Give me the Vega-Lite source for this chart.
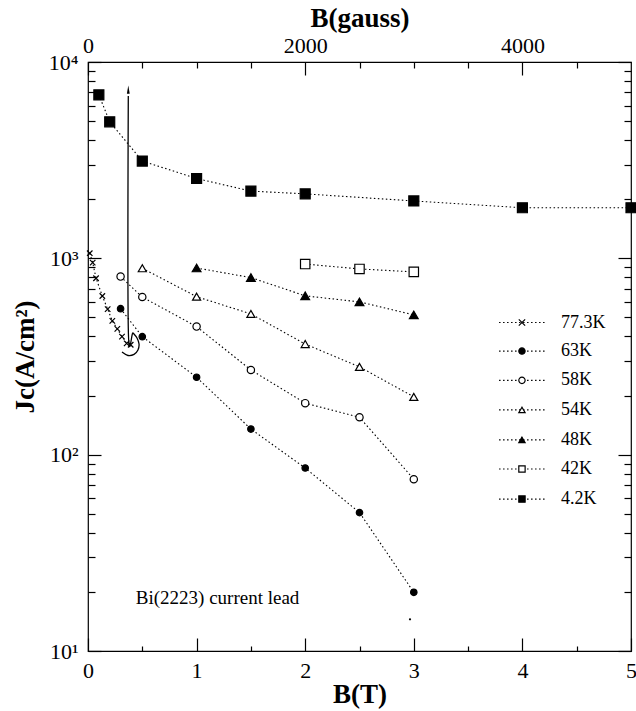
{
  "$schema": "https://vega.github.io/schema/vega-lite/v6.json",
  "width": 543,
  "height": 589,
  "autosize": "none",
  "padding": {"left": 88, "top": 62, "right": 5, "bottom": 60},
  "background": "white",
  "config": {
    "view": {"stroke": "black", "strokeWidth": 1.2},
    "axis": {
      "domain": false, "grid": false,
      "labelFont": "Liberation Serif", "labelFontSize": 22, "labelColor": "black",
      "titleFont": "Liberation Serif", "titleFontSize": 27, "titleFontWeight": "bold", "titleColor": "black",
      "tickColor": "black", "tickWidth": 1.2,
      "labelFlush": false, "labelOverlap": false
    }
  },
  "datasets": {
    "series": [
      {"T": "4.2K", "B": 0.1, "Jc": 6800}, {"T": "4.2K", "B": 0.2, "Jc": 4960}, {"T": "4.2K", "B": 0.5, "Jc": 3130},
      {"T": "4.2K", "B": 1.0, "Jc": 2550}, {"T": "4.2K", "B": 1.5, "Jc": 2200}, {"T": "4.2K", "B": 2.0, "Jc": 2130},
      {"T": "4.2K", "B": 3.0, "Jc": 1960}, {"T": "4.2K", "B": 4.0, "Jc": 1810}, {"T": "4.2K", "B": 5.0, "Jc": 1810},
      {"T": "42K", "B": 2.0, "Jc": 935}, {"T": "42K", "B": 2.5, "Jc": 883}, {"T": "42K", "B": 3.0, "Jc": 853},
      {"T": "48K", "B": 1.0, "Jc": 893}, {"T": "48K", "B": 1.5, "Jc": 798}, {"T": "48K", "B": 2.0, "Jc": 644},
      {"T": "48K", "B": 2.5, "Jc": 600}, {"T": "48K", "B": 3.0, "Jc": 515},
      {"T": "54K", "B": 0.5, "Jc": 890}, {"T": "54K", "B": 1.0, "Jc": 638}, {"T": "54K", "B": 1.5, "Jc": 521},
      {"T": "54K", "B": 2.0, "Jc": 366}, {"T": "54K", "B": 2.5, "Jc": 280}, {"T": "54K", "B": 3.0, "Jc": 197},
      {"T": "58K", "B": 0.3, "Jc": 807}, {"T": "58K", "B": 0.5, "Jc": 635}, {"T": "58K", "B": 1.0, "Jc": 449},
      {"T": "58K", "B": 1.5, "Jc": 270}, {"T": "58K", "B": 2.0, "Jc": 183}, {"T": "58K", "B": 2.5, "Jc": 155},
      {"T": "58K", "B": 3.0, "Jc": 75},
      {"T": "63K", "B": 0.3, "Jc": 554}, {"T": "63K", "B": 0.5, "Jc": 399}, {"T": "63K", "B": 1.0, "Jc": 248},
      {"T": "63K", "B": 1.5, "Jc": 135}, {"T": "63K", "B": 2.0, "Jc": 85.5}, {"T": "63K", "B": 2.5, "Jc": 50.7},
      {"T": "63K", "B": 3.0, "Jc": 19.9},
      {"T": "77.3K", "B": 0.016, "Jc": 1062}, {"T": "77.3K", "B": 0.043, "Jc": 951}, {"T": "77.3K", "B": 0.074, "Jc": 792},
      {"T": "77.3K", "B": 0.132, "Jc": 643}, {"T": "77.3K", "B": 0.181, "Jc": 551}, {"T": "77.3K", "B": 0.224, "Jc": 480},
      {"T": "77.3K", "B": 0.27, "Jc": 437}, {"T": "77.3K", "B": 0.313, "Jc": 399}, {"T": "77.3K", "B": 0.356, "Jc": 369},
      {"T": "77.3K", "B": 0.393, "Jc": 363}
    ],
    "legend": [
      {"T": "77.3K", "x0": 3.785, "x1": 4.215, "xm": 3.996, "xt": 4.355, "ly": 471},
      {"T": "63K", "x0": 3.785, "x1": 4.215, "xm": 3.996, "xt": 4.355, "ly": 337},
      {"T": "58K", "x0": 3.785, "x1": 4.215, "xm": 3.996, "xt": 4.355, "ly": 239},
      {"T": "54K", "x0": 3.785, "x1": 4.215, "xm": 3.996, "xt": 4.355, "ly": 169},
      {"T": "48K", "x0": 3.785, "x1": 4.215, "xm": 3.996, "xt": 4.355, "ly": 119},
      {"T": "42K", "x0": 3.785, "x1": 4.215, "xm": 3.996, "xt": 4.355, "ly": 84.5},
      {"T": "4.2K", "x0": 3.785, "x1": 4.215, "xm": 3.996, "xt": 4.355, "ly": 59.4}
    ],
    "arrow": [
      {"o": 0, "ax": 0.371, "ay": 6710}, {"o": 1, "ax": 0.371, "ay": 441}, {"o": 2, "ax": 0.414, "ay": 417},
      {"o": 3, "ax": 0.451, "ay": 393}, {"o": 4, "ax": 0.47, "ay": 366}, {"o": 5, "ax": 0.46, "ay": 341},
      {"o": 6, "ax": 0.424, "ay": 324}, {"o": 7, "ax": 0.368, "ay": 320}, {"o": 8, "ax": 0.313, "ay": 333}
    ],
    "head": [{"ax": 0.371, "ay": 7150}],
    "speck": [{"ax": 2.965, "ay": 14.5}],
    "note": [{"ax": 0.44, "ay": 18.6, "txt": "Bi(2223)  current  lead"}]
  },
  "resolve": {"axis": {"x": "independent", "y": "independent"}},
  "layer": [
    {
      "data": {"name": "series"},
      "mark": {"type": "line", "color": "black", "strokeWidth": 1.1, "strokeDash": [1.5, 2.5]},
      "encoding": {
        "x": {"field": "B", "type": "quantitative",
              "scale": {"domain": [0, 5], "nice": false, "zero": false},
              "axis": {"orient": "bottom", "values": [0, 1, 2, 3, 4, 5], "tickSize": -13, "labelPadding": 22, "title": "B(T)", "titlePadding": 0}},
        "y": {"field": "Jc", "type": "quantitative",
              "scale": {"type": "log", "domain": [10, 10000], "nice": false},
              "axis": {"orient": "left", "values": [10, 100, 1000, 10000], "tickSize": -13, "labelPadding": 23,
                       "labelExpr": "datum.value == 10 ? '10¹' : datum.value == 100 ? '10²' : datum.value == 1000 ? '10³' : '10⁴'",
                       "title": "Jc(A/cm²)", "titlePadding": 9}},
        "detail": {"field": "T"}
      }
    },
    {
      "data": {"name": "series"},
      "mark": {"type": "point", "stroke": "black", "strokeWidth": 1.2, "opacity": 1},
      "encoding": {
        "x": {"field": "B", "type": "quantitative",
              "axis": {"orient": "bottom", "values": [0.5, 1.5, 2.5, 3.5, 4.5], "tickSize": -5, "labels": false, "title": null}},
        "y": {"field": "Jc", "type": "quantitative",
              "axis": {"orient": "left", "values": [20,30,40,50,60,70,80,90,200,300,400,500,600,700,800,900,2000,3000,4000,5000,6000,7000,8000,9000], "tickSize": -7, "labels": false, "title": null}},
        "shape": {"field": "T", "type": "nominal", "legend": null,
                  "scale": {"domain": ["77.3K", "63K", "58K", "54K", "48K", "42K", "4.2K"],
                            "range": ["M-1,-1L1,1M-1,1L1,-1", "circle", "circle", "triangle-up", "triangle-up", "square", "square"]}},
        "fill": {"field": "T", "type": "nominal", "legend": null,
                 "scale": {"domain": ["77.3K", "63K", "58K", "54K", "48K", "42K", "4.2K"],
                           "range": ["transparent", "black", "white", "white", "black", "white", "black"]}},
        "size": {"field": "T", "type": "nominal", "legend": null,
                 "scale": {"domain": ["77.3K", "63K", "58K", "54K", "48K", "42K", "4.2K"],
                           "range": [30, 100, 72, 64, 64, 42, 44]}}
      }
    },
    {
      "data": {"name": "legend"},
      "mark": {"type": "rule", "color": "black", "strokeWidth": 1.1, "strokeDash": [1.5, 2.5]},
      "encoding": {
        "x": {"field": "x0", "type": "quantitative",
              "axis": {"orient": "top", "values": [0, 2, 4], "tickSize": -13, "labelPadding": 18,
                       "labelExpr": "format(datum.value * 1000, 'd')", "title": "B(gauss)", "titlePadding": 2}},
        "x2": {"field": "x1"},
        "y": {"field": "ly", "type": "quantitative",
              "axis": {"orient": "right", "values": [10, 100, 1000, 10000], "tickSize": -13, "labels": false, "title": null}}
      }
    },
    {
      "data": {"name": "legend"},
      "mark": {"type": "point", "stroke": "black", "strokeWidth": 1.2, "opacity": 1},
      "encoding": {
        "x": {"field": "xm", "type": "quantitative",
              "axis": {"orient": "top", "values": [0.5, 1, 1.5, 2.5, 3, 3.5, 4.5], "tickSize": -6, "labels": false, "title": null}},
        "y": {"field": "ly", "type": "quantitative",
              "axis": {"orient": "right", "values": [20,30,40,50,60,70,80,90,200,300,400,500,600,700,800,900,2000,3000,4000,5000,6000,7000,8000,9000], "tickSize": -7, "labels": false, "title": null}},
        "shape": {"field": "T", "type": "nominal", "legend": null},
        "fill": {"field": "T", "type": "nominal", "legend": null},
        "size": {"value": 40}
      }
    },
    {
      "data": {"name": "legend"},
      "mark": {"type": "text", "align": "left", "baseline": "middle", "font": "Liberation Serif", "fontSize": 18, "color": "black"},
      "encoding": {
        "x": {"field": "xt", "type": "quantitative", "axis": null},
        "y": {"field": "ly", "type": "quantitative", "axis": null},
        "text": {"field": "T"}
      }
    },
    {
      "data": {"name": "arrow"},
      "mark": {"type": "line", "color": "black", "strokeWidth": 1.3, "interpolate": "cardinal"},
      "encoding": {
        "x": {"field": "ax", "type": "quantitative", "axis": null},
        "y": {"field": "ay", "type": "quantitative", "axis": null},
        "order": {"field": "o"}
      }
    },
    {
      "data": {"name": "head"},
      "mark": {"type": "point", "shape": "M0,-1.6L0.45,1L-0.45,1Z", "filled": true, "color": "black", "size": 40, "opacity": 1},
      "encoding": {
        "x": {"field": "ax", "type": "quantitative", "axis": null},
        "y": {"field": "ay", "type": "quantitative", "axis": null}
      }
    },
    {
      "data": {"name": "speck"},
      "mark": {"type": "point", "shape": "circle", "filled": true, "color": "black", "size": 5, "opacity": 1},
      "encoding": {
        "x": {"field": "ax", "type": "quantitative", "axis": null},
        "y": {"field": "ay", "type": "quantitative", "axis": null}
      }
    },
    {
      "data": {"name": "note"},
      "mark": {"type": "text", "align": "left", "baseline": "middle", "font": "Liberation Serif", "fontSize": 19, "color": "black"},
      "encoding": {
        "x": {"field": "ax", "type": "quantitative", "axis": null},
        "y": {"field": "ay", "type": "quantitative", "axis": null},
        "text": {"field": "txt"}
      }
    }
  ]
}
